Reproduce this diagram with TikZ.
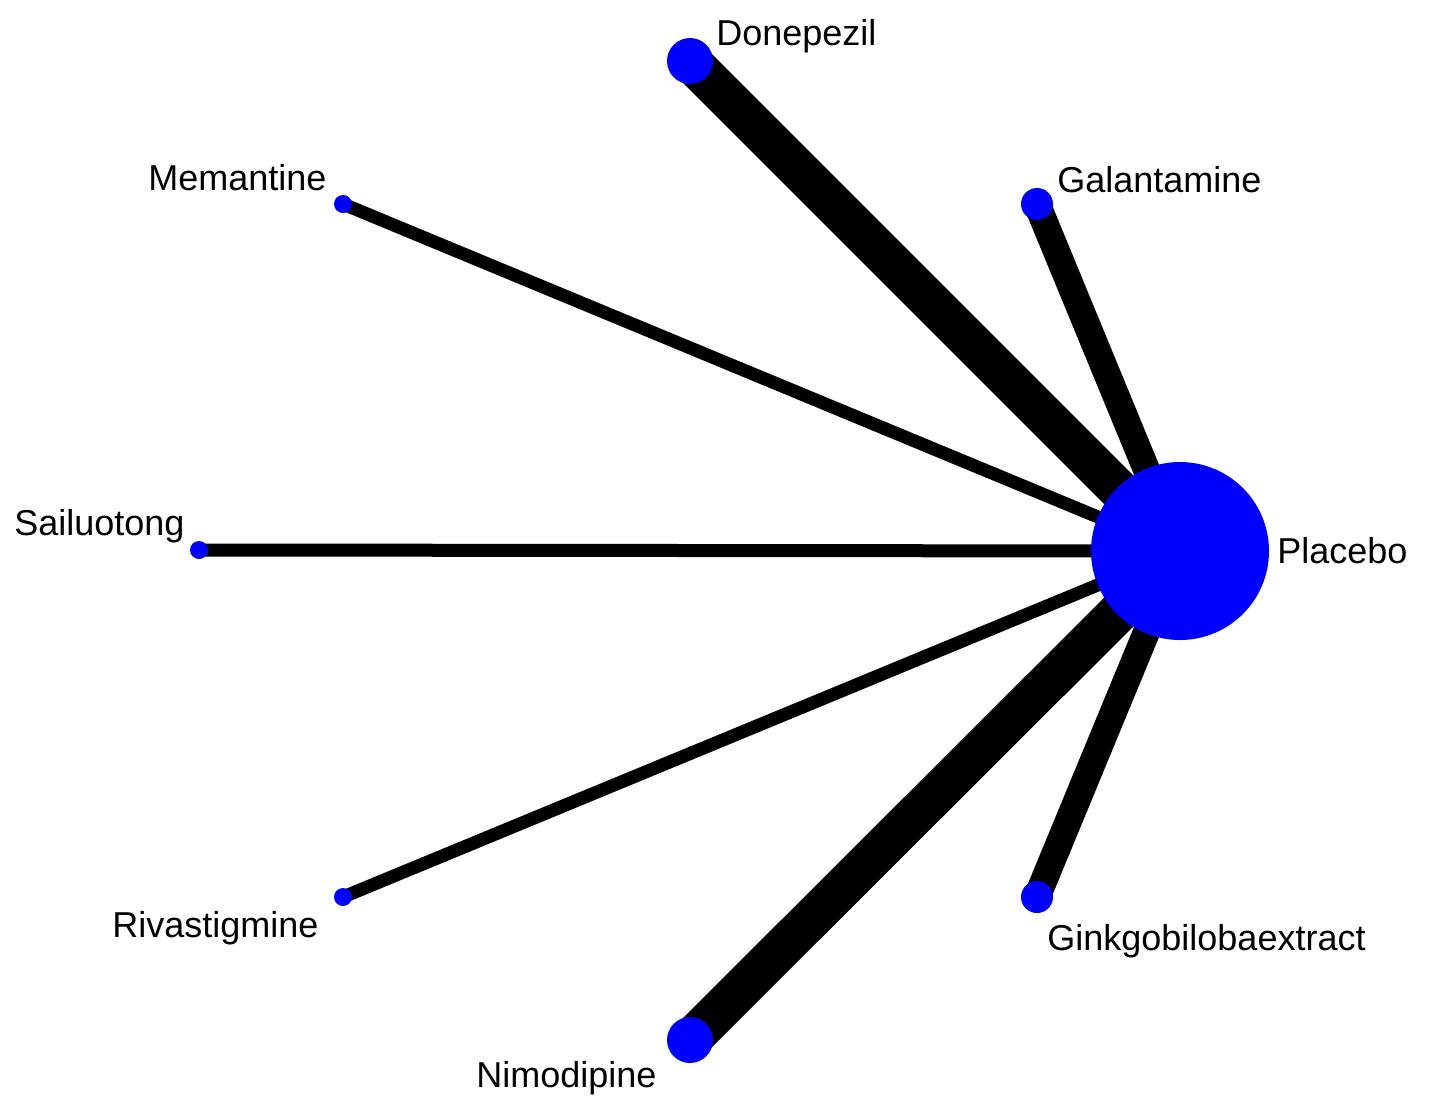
\documentclass[tikz,border=0pt]{standalone}
\usepackage{fontspec}
\setmainfont{Liberation Sans}
\usetikzlibrary{backgrounds,positioning}

\begin{document}
\begin{tikzpicture}[
    x=0.5pt, y=-0.5pt,
    drug/.style={circle,fill=netblue,inner sep=0pt},
    lab/.style={inner sep=0pt,anchor=base west,font=\fontsize{18}{20}\selectfont},
    thin edge/.style={line width=6.5pt},
    mid edge/.style={line width=13.5pt},
    wide edge/.style={line width=20.5pt}
]
\colorlet{netblue}{blue}
\useasboundingbox (0,0) rectangle (1430,1115);

    % treatments
    \node [drug,minimum size=89pt] (pla) at (1180,551) {};
    \node [drug,minimum size=23pt] (don) at (690,61) {};
    \node [drug,minimum size=16pt] (gal) at (1037,204) {};
    \node [drug,minimum size=9pt] (mem) at (343,204) {};
    \node [drug,minimum size=9pt] (sai) at (199,550) {};
    \node [drug,minimum size=9pt] (riv) at (343,897) {};
    \node [drug,minimum size=23pt] (nim) at (690,1040) {};
    \node [drug,minimum size=16pt] (gin) at (1037,897) {};

    % names
    \node [lab] (plalab) at (1277,563) {Placebo};
    \node [lab] (donlab) at (716,45) {Donepezil};
    \node [lab] (gallab) at (1057,192) {Galantamine};
    \node [lab] (memlab) at (148,190) {Memantine};
    \node [lab] (sailab) at (14,535) {Sailuotong};
    \node [lab] (rivlab) at (112,937) {Rivastigmine};
    \node [lab] (nimlab) at (476,1087) {Nimodipine};
    \node [lab] (ginlab) at (1047,950) {Ginkgobilobaextract};

    % comparisons
    \begin{pgfonlayer}{background}
    \draw [wide edge] (pla.center) -- (don.center);
    \draw [mid edge] (pla.center) -- (gal.center);
    \draw [thin edge] (pla.center) -- (mem.center);
    \draw [thin edge] (pla.center) -- (sai.center);
    \draw [thin edge] (pla.center) -- (riv.center);
    \draw [wide edge] (pla.center) -- (nim.center);
    \draw [mid edge] (pla.center) -- (gin.center);
    \end{pgfonlayer}
\end{tikzpicture}
\end{document}
